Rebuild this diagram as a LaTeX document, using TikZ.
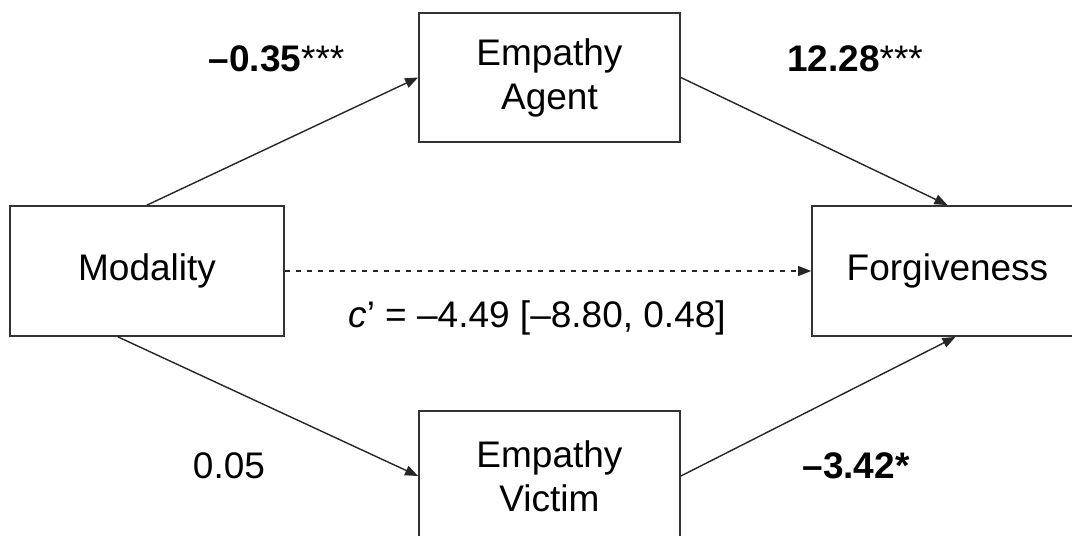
\documentclass[tikz,border=0pt]{standalone}
\usepackage{fontspec}
\setmainfont{Liberation Sans}
\usetikzlibrary{arrows.meta}
\begin{document}
\begin{tikzpicture}[x=1pt,y=-1pt,
  box/.style={draw=black!80,line width=1.8pt,fill=white,rectangle,inner sep=0pt,align=center,
    font=\fontsize{37}{44}\selectfont},
  arr/.style={draw=black!85,line width=1.4pt,-{Triangle[length=13pt,width=10pt]}},
  lab/.style={anchor=base,inner sep=0pt,font=\fontsize{37}{44}\selectfont}]
\useasboundingbox (0,0) rectangle (1072,536);
\clip (0,0) rectangle (1072,536);
\fill[white] (0,0) rectangle (1072,536);
\node[box,minimum width=274pt,minimum height=130pt] (mod) at (147,271) {Modality};
\node[box,minimum width=261pt,minimum height=129pt] (agent) at (549.5,77.5) {Empathy\\Agent};
\node[box,minimum width=271pt,minimum height=130pt] (forg) at (947.5,271) {Forgiveness};
\node[box,minimum width=261pt,minimum height=130pt] (vic) at (549.5,476) {Empathy\\Victim};
\draw[arr] (mod.north) -- (agent.west);
\draw[arr] (agent.east) -- (forg.north);
\draw[arr] ([xshift=-29pt]mod.south) -- (vic.west);
\draw[arr] (vic.east) -- ([xshift=8pt]forg.south);
\draw[arr,dash pattern=on 5pt off 6pt] (mod.east) -- (forg.west);
\node[lab] (l1) at (276.5,71) {\textbf{–0.35}***};
\node[lab] (l2) at (855,71) {\textbf{12.28}***};
\node[lab] (l3) at (537,327) {\textit{c}’ = –4.49 [–8.80, 0.48]};
\node[lab] (l4) at (229,478) {0.05};
\node[lab] (l5) at (856,478) {\textbf{–3.42*}};
\end{tikzpicture}
\end{document}
